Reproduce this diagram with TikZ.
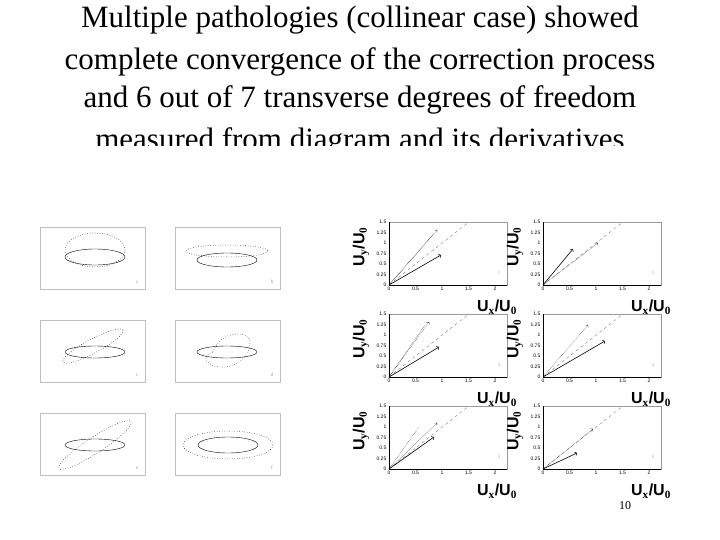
\documentclass[tikz,border=0pt]{standalone}
\usepackage{fontspec}
\setmainfont{Liberation Serif}
\newfontfamily\axf{Liberation Sans}
\begin{document}
\begin{tikzpicture}[x=1pt,y=-1pt,
  title/.style={font=\fontsize{31}{34}\selectfont,anchor=center,inner sep=0},
  lbox/.style={draw=black!25,line width=0.8pt},
  ell/.style={line width=0.4pt},
  dell/.style={dotted,line width=0.5pt},
  tick/.style={font=\axf\fontsize{5}{6}\selectfont,inner sep=0.5pt},
  axl/.style={font=\axf\bfseries\fontsize{16}{17}\selectfont,inner sep=0}]
\useasboundingbox (0,0) rectangle (720,540);
\begin{scope}
\clip (0,0) rectangle (720,146);
\node[title] (t1) at (360,20) {Multiple pathologies (collinear case) showed};
\node[title] (t2) at (360,62) {complete convergence of the correction process};
\node[title] (t3) at (360,100) {and 6 out of 7 transverse degrees of freedom};
\node[title] (t4) at (360,142) {measured from diagram and its derivatives};
\end{scope}
% left panels
\foreach \x/\y/\l in {40/227/a,175/227/b,40/320/c,175/320/d,40/413/e,175/413/f}{
  \draw[lbox] (\x,\y) rectangle ++(105,62);
  \node[font=\tiny,text=black!40] at (\x+97,\y+55) {\l};
}
\draw[ell] (95,257) ellipse (30 and 8);
\draw[dell] (95,250) ellipse (30 and 17);
\draw[ell] (227,260) ellipse (30 and 7);
\draw[dell] (227,251) ellipse (41 and 6);
\draw[ell] (95,352) ellipse (30 and 6);
\draw[dell,rotate around={28:(93,346)}] (93,346) ellipse (34 and 7);
\draw[ell] (227,352) ellipse (30 and 6);
\draw[dell] (213,352) .. controls (220,330) and (250,330) .. (250,342) .. controls (250,355) and (240,365) .. (225,367) .. controls (205,368) and (200,355) .. (213,352);
\draw[ell] (95,445) ellipse (30 and 6);
\draw[dell,rotate around={33:(95,445)}] (95,445) ellipse (43 and 8);
\draw[ell] (228,445) ellipse (30 and 8);
\draw[dell] (228,445) ellipse (45 and 14);
% plots
\foreach \ox/\oy/\k in {389/285/1,543/285/2,389/377/3,543/377/4,389/469/5,543/469/6}{
 \begin{scope}[shift={(\ox,\oy)}]
  \draw[black!40,line width=0.4pt] (0,0) rectangle (118,-63);
  \draw[line width=0.5pt] (0,0) -- (118,0) (0,0) -- (0,-63);
  \foreach \v/\t in {0/0,0.5/0.5,1/1,1.5/1.5,2/2}{
    \node[tick,below] at (53*\v,1) {\t};}
  \foreach \v/\t in {0/0,0.25/0.25,0.5/0.5,0.75/0.75,1/1,1.25/1.25,1.5/1.5}{
    \node[tick,left] at (-2,-42*\v) {\t};}
  \draw[dashed,black!60,line width=0.3pt] (0,0) -- (80,-63);
  \node[axl,rotate=90] at (-28,-38) {U$_{\mathbf y}$/U$_{\mathbf 0}$};
  \node[axl] at (108,22) {U$_{\mathbf x}$/U$_{\mathbf 0}$};
  \node[font=\tiny,text=black!30] at (110,-12) {\k};
 \end{scope}}
\begin{scope}[shift={(389,285)}]
 \draw[->,line width=0.6pt] (0,0) -- (52,-30);
 \draw[->,densely dotted] (0,0) -- (48,-55);
 \draw[densely dotted] (0,0) -- (44,-50);
\end{scope}
\begin{scope}[shift={(543,285)}]
 \draw[->,line width=0.6pt] (0,0) -- (30,-36);
 \draw[->,densely dotted] (0,0) -- (55,-42);
\end{scope}
\begin{scope}[shift={(389,377)}]
 \draw[->,line width=0.6pt] (0,0) -- (50,-30);
 \draw[->,densely dotted] (0,0) -- (40,-55);
 \draw[densely dotted] (0,0) -- (36,-52);
\end{scope}
\begin{scope}[shift={(543,377)}]
 \draw[->,line width=0.6pt] (0,0) -- (62,-36);
 \draw[->,densely dotted] (0,0) -- (45,-52);
\end{scope}
\begin{scope}[shift={(389,469)}]
 \draw[->,line width=0.6pt] (0,0) -- (45,-32);
 \draw[->,densely dotted] (0,0) -- (48,-46);
 \draw[densely dotted] (0,0) -- (30,-42);
\end{scope}
\begin{scope}[shift={(543,469)}]
 \draw[->,line width=0.6pt] (0,0) -- (34,-16);
 \draw[->,densely dotted] (0,0) -- (50,-40);
\end{scope}
\node[font=\fontsize{12}{14}\selectfont] (pg) at (625,506) {10};
\end{tikzpicture}
\end{document}
